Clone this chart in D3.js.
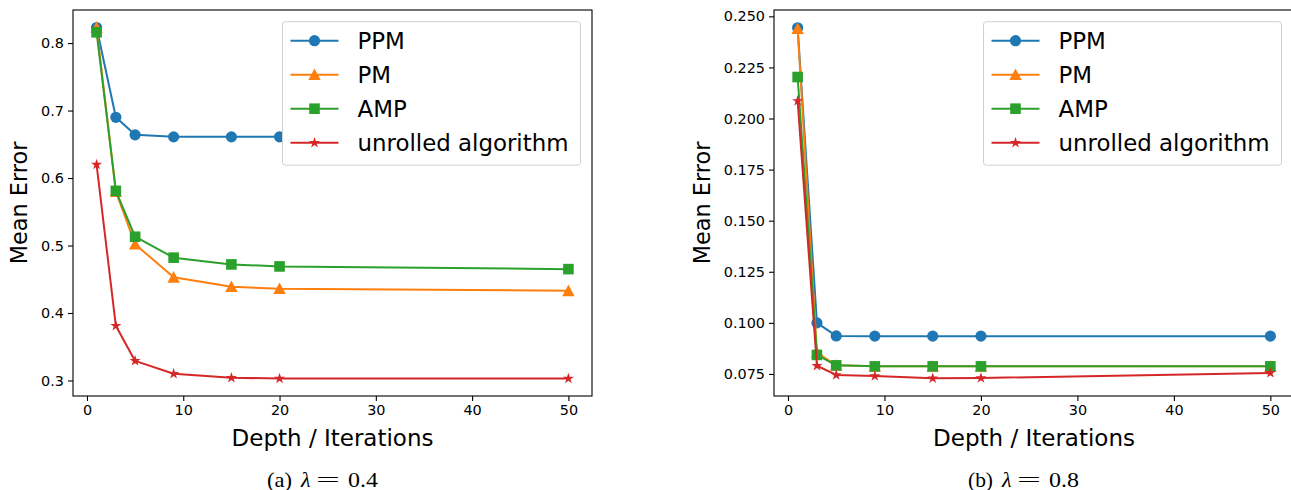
<!DOCTYPE html>
<html>
<head>
<meta charset="utf-8">
<script src="https://cdn.jsdelivr.net/npm/d3@7"></script>
<style>
  html, body { margin: 0; padding: 0; background: #fff; }
  svg { display: block; }
</style>
</head>
<body>
<svg id="chart" width="1291" height="490"></svg>
<script>
// ---- data ----
const depths = [1, 3, 5, 9, 15, 20, 50];
const seriesNames = ["PPM", "PM", "AMP", "unrolled algorithm"];

// lambda = 0.4
const ppmA      = [0.823, 0.690, 0.664, 0.661, 0.661, 0.661, 0.661];
const pmA       = [0.823, 0.580, 0.502, 0.453, 0.439, 0.436, 0.433];
const ampA      = [0.816, 0.581, 0.513, 0.482, 0.472, 0.469, 0.465];
const unrolledA = [0.620, 0.381, 0.329, 0.310, 0.304, 0.303, 0.303];

// lambda = 0.8
const ppmB      = [0.2444, 0.1000, 0.0936, 0.0935, 0.0935, 0.0935, 0.0935];
const pmB       = [0.2440, 0.0855, 0.0792, 0.0787, 0.0787, 0.0787, 0.0787];
const ampB      = [0.2203, 0.0843, 0.0792, 0.0787, 0.0787, 0.0787, 0.0787];
const unrolledB = [0.2086, 0.0790, 0.0745, 0.0740, 0.0729, 0.0730, 0.0755];

const xTicks = [0, 10, 20, 30, 40, 50];
const yTicksA = [0.3, 0.4, 0.5, 0.6, 0.7, 0.8];
const yTicksB = [0.075, 0.100, 0.125, 0.150, 0.175, 0.200, 0.225, 0.250];

const colors = ["#1f77b4", "#ff7f0e", "#2ca02c", "#d62728"];
const markers = ["circle", "triangle", "square", "star"];

const svg = d3.select("#chart");

function drawMarker(g, type, x, y, color) {
  if (type === "circle") {
    g.append("circle").attr("cx", x).attr("cy", y).attr("r", 5.6).attr("fill", color);
  } else if (type === "square") {
    g.append("rect").attr("x", x - 5.3).attr("y", y - 5.3).attr("width", 10.6).attr("height", 10.6).attr("fill", color);
  } else if (type === "triangle") {
    g.append("path").attr("transform", `translate(${x},${y})`)
      .attr("d", "M0,-6.2L6.2,5.4L-6.2,5.4Z").attr("fill", color);
  } else {
    g.append("path").attr("transform", `translate(${x},${y})`)
      .attr("d", d3.symbol(d3.symbolStar, 38)()).attr("fill", color);
  }
}

function panel(opts) {
  const { left, right, top, bottom, xDomain, yDomain, yTicks, yFmt, data, caption, ylabOff } = opts;
  const g = svg.append("g");
  const x = d3.scaleLinear().domain(xDomain).range([left, right]);
  const y = d3.scaleLinear().domain(yDomain).range([bottom, top]);

  // lines & markers
  const line = d3.line().x(d => x(d[0])).y(d => y(d[1]));
  data.forEach((vals, i) => {
    const pts = depths.map((d, j) => [d, vals[j]]);
    g.append("path").datum(pts).attr("d", line)
      .attr("fill", "none").attr("stroke", colors[i]).attr("stroke-width", 2)
      .attr("stroke-linejoin", "round");
    pts.forEach(p => drawMarker(g, markers[i], x(p[0]), y(p[1]), colors[i]));
  });

  // frame
  g.append("rect").attr("x", left).attr("y", top)
    .attr("width", right - left).attr("height", bottom - top)
    .attr("fill", "none").attr("stroke", "#000").attr("stroke-width", 1.1);

  // axes
  const xAxis = d3.axisBottom(x).tickValues(xTicks).tickSize(5).tickPadding(4).tickFormat(d3.format("d"));
  const gx = g.append("g").attr("transform", `translate(0,${bottom})`).call(xAxis);
  const yAxis = d3.axisLeft(y).tickValues(yTicks).tickSize(5).tickPadding(4).tickFormat(yFmt);
  const gy = g.append("g").attr("transform", `translate(${left},0)`).call(yAxis);
  [gx, gy].forEach(a => {
    a.select(".domain").remove();
    a.selectAll("line").attr("stroke", "#000").attr("stroke-width", 1.1);
    a.selectAll("text").attr("font-family", "DejaVu Sans").attr("font-size", 14.4).attr("fill", "#000");
  });

  // axis labels
  g.append("text").attr("x", (left + right) / 2).attr("y", 446)
    .attr("text-anchor", "middle").attr("font-family", "DejaVu Sans").attr("font-size", 23)
    .text("Depth / Iterations");
  g.append("text").attr("transform", `translate(${left - ylabOff},${(top + bottom) / 2}) rotate(-90)`)
    .attr("text-anchor", "middle").attr("font-family", "DejaVu Sans").attr("font-size", 22.4)
    .text("Mean Error");

  // legend
  const lg = g.append("g").attr("transform", `translate(${left + 209.5},21.7)`);
  lg.append("rect").attr("x", 0).attr("y", 0).attr("width", 298).attr("height", 143.5)
    .attr("rx", 3).attr("fill", "#fff").attr("stroke", "#d0d0d0").attr("stroke-width", 1);
  seriesNames.forEach((name, i) => {
    const yy = 19 + i * 34;
    lg.append("line").attr("x1", 8).attr("x2", 56).attr("y1", yy).attr("y2", yy)
      .attr("stroke", colors[i]).attr("stroke-width", 2);
    drawMarker(lg, markers[i], 32, yy, colors[i]);
    lg.append("text").attr("x", 75).attr("y", yy).attr("dy", "0.36em")
      .attr("font-family", "DejaVu Sans").attr("font-size", 22.9).attr("fill", "#000")
      .text(name);
  });

  // caption (LaTeX-like)
  const cg = g.append("g").attr("transform", `translate(${caption.x},486.5)`)
    .attr("font-family", "Liberation Serif").attr("font-size", 22).attr("fill", "#000");
  cg.append("text").attr("x", -56).attr("textLength", 25).attr("lengthAdjust", "spacingAndGlyphs").text(caption.label);
  cg.append("text").attr("x", -22).attr("font-style", "italic").text("λ");
  cg.append("text").attr("x", -7).attr("y", -1).attr("font-size", 19).attr("textLength", 24).attr("lengthAdjust", "spacingAndGlyphs").text("=");
  cg.append("text").attr("x", 25).attr("textLength", 30).attr("lengthAdjust", "spacingAndGlyphs").text(caption.value);
}

panel({
  left: 73, right: 592, top: 10, bottom: 396,
  xDomain: [-1.45, 52.45], yDomain: [0.277, 0.849],
  yTicks: yTicksA, yFmt: d3.format(".1f"),
  data: [ppmA, pmA, ampA, unrolledA],
  caption: { x: 323, label: "(a)", value: "0.4" }, ylabOff: 46
});

panel({
  left: 774, right: 1294, top: 10, bottom: 396,
  xDomain: [-1.45, 52.45], yDomain: [0.0642, 0.2531],
  yTicks: yTicksB, yFmt: d3.format(".3f"),
  data: [ppmB, pmB, ampB, unrolledB],
  caption: { x: 1024, label: "(b)", value: "0.8" }, ylabOff: 64
});
</script>
</body>
</html>
